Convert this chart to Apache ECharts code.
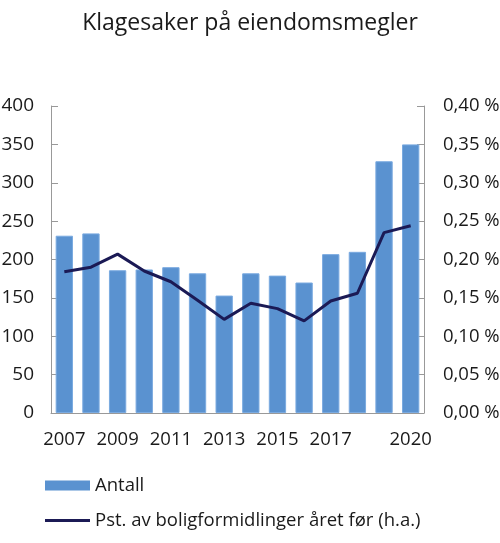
<!DOCTYPE html>
<html>
<head>
	<meta charset="utf-8" />
	<title>Klagesaker på eiendomsmegler</title>
	<script src="https://cdn.jsdelivr.net/npm/echarts@6/dist/echarts.min.js"></script>
	<style>
		html, body { margin: 0; padding: 0; background: #fff; }
		#main { width: 500px; height: 543px; }
	</style>
</head>
<body>
	<div id="main"></div>
	<script type="text/javascript">
		// data
		var years = ['2007','2008','2009','2010','2011','2012','2013','2014','2015','2016','2017','2018','2019','2020'];
		var shownYears = ['2007','2009','2011','2013','2015','2017','2020'];
		var antall = [231, 234, 186, 187, 190, 182, 153, 182, 179, 170, 207, 210, 328, 350];
		var pst = [0.184, 0.190, 0.207, 0.185, 0.171, 0.147, 0.122, 0.143, 0.136, 0.120, 0.146, 0.156, 0.235, 0.244];

		var font = '"Open Sans", sans-serif';
		var barName = 'Antall';
		var lineName = 'Pst. av boligformidlinger året før (h.a.)';
		var myChart = echarts.init(document.getElementById('main'));

		var legendText = { fontFamily: font, fontSize: 18.5, color: '#1a1a1a' };

		var option = {
			animation: false,
			textStyle: { fontFamily: font },
			title: {
				text: 'Klagesaker på eiendomsmegler',
				left: 'center',
				top: 7,
				textStyle: { fontFamily: font, fontSize: 23, fontWeight: 'normal', color: '#1a1a1a' }
			},
			grid: { left: 51, right: 76, top: 106, bottom: 130, containLabel: false, outerBoundsMode: 'none' },
			// two legends so each icon can have its own height
			legend: [{
				orient: 'vertical',
				left: 45,
				top: 476,
				padding: 0,
				itemWidth: 45,
				itemHeight: 10,
				icon: 'rect',
				itemStyle: { borderWidth: 0 },
				textStyle: legendText,
				data: [barName]
			}, {
				orient: 'vertical',
				left: 45,
				top: 511,
				padding: 0,
				itemWidth: 45,
				itemHeight: 3,
				icon: 'rect',
				textStyle: legendText,
				data: [lineName]
			}],
			xAxis: {
				type: 'category',
				data: years,
				axisLine: { lineStyle: { color: '#999' } },
				axisTick: { show: false },
				axisLabel: {
					interval: 0,
					margin: 17,
					fontSize: 18.5,
					color: '#1a1a1a',
					formatter: function (v) { return shownYears.indexOf(v) >= 0 ? v : ''; }
				}
			},
			yAxis: [{
				type: 'value',
				min: 0, max: 400, interval: 50,
				splitLine: { show: false },
				axisLine: { show: true, lineStyle: { color: '#999' } },
				axisTick: { show: true, inside: true, length: 7, lineStyle: { color: '#999' } },
				axisLabel: { fontSize: 19, color: '#1a1a1a', margin: 17 }
			}, {
				type: 'value',
				min: 0, max: 0.4, interval: 0.05,
				splitLine: { show: false },
				axisLine: { show: true, lineStyle: { color: '#999' } },
				axisTick: { show: true, inside: true, length: 7, lineStyle: { color: '#999' } },
				axisLabel: {
					fontSize: 18.5, color: '#1a1a1a', margin: 19,
					formatter: function (v) { return v.toFixed(2).replace('.', ',') + ' %'; }
				}
			}],
			series: [{
				name: barName,
				type: 'bar',
				data: antall,
				barCategoryGap: '35%',
				itemStyle: { color: '#5a92d0', borderColor: '#7aaae0', borderWidth: 1 }
			}, {
				name: lineName,
				type: 'line',
				yAxisIndex: 1,
				data: pst,
				symbol: 'none',
				lineStyle: { color: '#1b1a55', width: 3 },
				itemStyle: { color: '#1b1a55' }
			}]
		};

		myChart.setOption(option);
	</script>
</body>
</html>
